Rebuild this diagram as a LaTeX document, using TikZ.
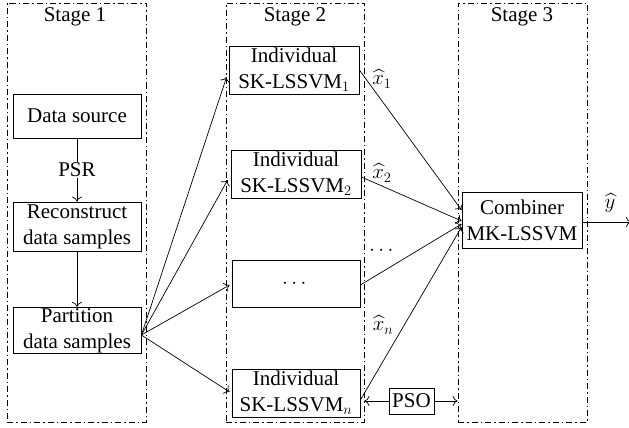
\documentclass[tikz,border=0pt]{standalone}
\usepackage{fontspec}
\setmainfont{Liberation Serif}
\usepackage{amsmath}
\usetikzlibrary{arrows.meta}
\begin{document}
\begin{tikzpicture}[x=1pt,y=-1pt,
  font=\fontsize{21}{26}\selectfont,
  stagebox/.style={draw,line width=0.8pt,dash pattern=on 6pt off 3pt on 1.5pt off 3pt,minimum width=#1,minimum height=419pt,inner sep=0pt},
  blk/.style={draw,line width=0.8pt,align=center,inner sep=1pt},
  arr/.style={-{To[length=5pt,width=10pt]},line width=0.7pt},
  lbl/.style={inner sep=1pt}
]
\useasboundingbox (0,0) rectangle (629,428);
% stages
\node[stagebox=139pt] (st1) at (76.5,212.5) {};
\node[stagebox=138pt] (st2) at (295,212.5) {};
\node[stagebox=129pt] (st3) at (522.5,212.5) {};
\node[lbl] (t1) at (75,17) {Stage 1};
\node[lbl] (t2) at (295,17) {Stage 2};
\node[lbl] (t3) at (522,17) {Stage 3};
% stage 1 blocks
\node[blk,minimum width=128pt,minimum height=44pt] (ds) at (77,116) {Data source};
\node[blk,minimum width=128pt,minimum height=49pt] (rc) at (77,226.5) {Reconstruct\\data samples};
\node[blk,minimum width=128pt,minimum height=45pt] (pt) at (77,330.5) {Partition\\data samples};
% stage 2 blocks
\node[blk,minimum width=130pt,minimum height=48pt] (b1) at (294,70) {Individual\\SK-LSSVM$_1$};
\node[blk,minimum width=130pt,minimum height=48pt] (b2) at (296,174) {Individual\\SK-LSSVM$_2$};
\node[blk,minimum width=128pt,minimum height=47pt] (b3) at (296,283.5) {$\cdots$};
\node[blk,minimum width=128pt,minimum height=48pt] (b4) at (296,393) {Individual\\SK-LSSVM$_n$};
% stage 3
\node[blk,minimum width=120pt,minimum height=56pt] (cb) at (522,220) {Combiner\\MK-LSSVM};
\node[blk,minimum width=45pt,minimum height=26pt,inner sep=0pt] (pso) at (411.5,401) {PSO};
% connectors stage 1
\draw[arr] (ds.south) -- node[fill=white,lbl] (psr) {PSR} (rc.north);
\draw[arr] (rc.south) -- (pt.north);
% partition to stage 2
\coordinate (po) at ([yshift=-4.5pt]pt.east);
\draw[arr] (po) -- ([xshift=-2pt,yshift=-7pt]b1.west);
\draw[arr] (po) -- ([xshift=-3pt,yshift=-6pt]b2.west);
\draw[arr] (po) -- ([xshift=-2pt,yshift=-1.5pt]b3.west);
\draw[arr] (po) -- ([xshift=-2pt,yshift=1pt]b4.west);
% stage 2 to combiner
\draw[arr] ([yshift=0pt]b1.east) -- ([yshift=10pt]cb.west);
\draw[arr] ([yshift=-3pt]b2.east) -- ([yshift=-1pt]cb.west);
\draw[arr] ([yshift=-1.5pt]b3.east) -- ([yshift=-4pt]cb.west);
\draw[arr] ([yshift=-7pt]b4.east) -- ([yshift=-7pt]cb.west);
\node[lbl] (x1) at (382,79) {$\widehat{x}_1$};
\node[lbl] (x2) at (382,173) {$\widehat{x}_2$};
\node[lbl] (xd) at (383,251) {$\cdots$};
\node[lbl] (xn) at (383,325) {$\widehat{x}_n$};
% PSO
\draw[arr] (pso.west) -- (pso.west -| st2.east);
\draw[arr] (pso.east) -- (pso.east -| st3.west);
% output
\coordinate (out) at (631,222);
\draw[arr] (cb.east |- out) -- (out);
\node[lbl] (yh) at (610,203) {$\widehat{y}$};
\end{tikzpicture}
\end{document}
